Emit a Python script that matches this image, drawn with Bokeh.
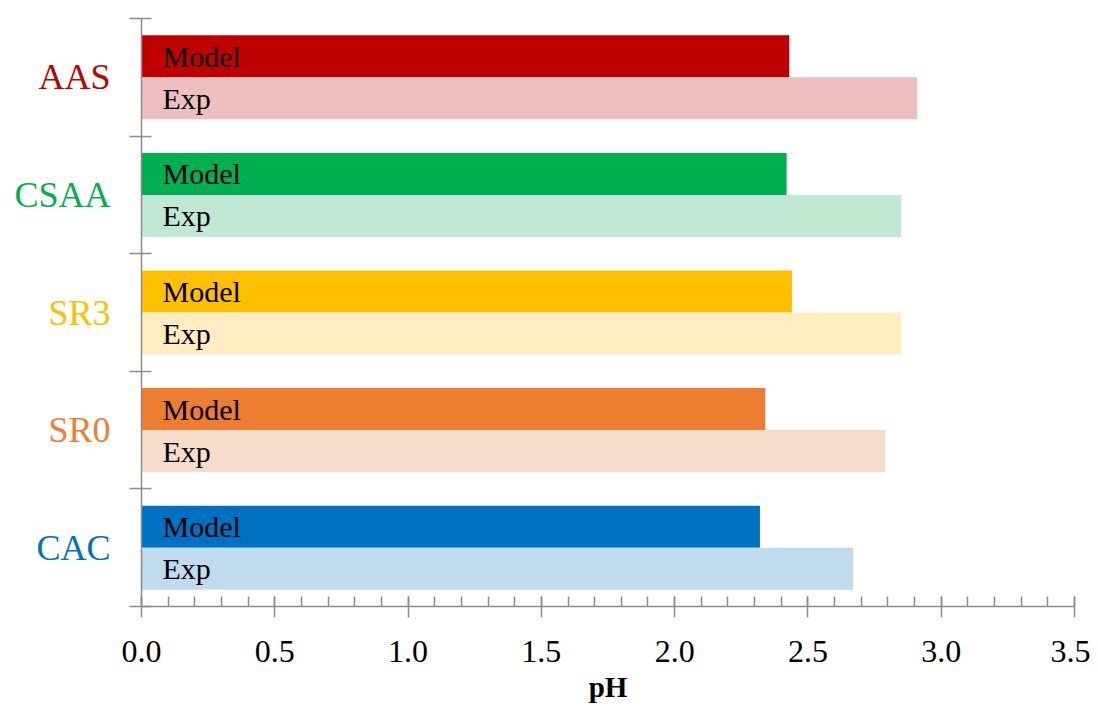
from bokeh.plotting import figure
from bokeh.layouts import row
from bokeh.models import Range1d, FixedTicker, ColumnDataSource
from bokeh.core.properties import value
from bokeh.embed import file_html
from bokeh.resources import INLINE

# ---- data (bottom to top) ----
categories = ["CAC", "SR0", "SR3", "CSAA", "AAS"]
model_ph = [2.32, 2.34, 2.44, 2.42, 2.43]
exp_ph = [2.67, 2.79, 2.85, 2.85, 2.91]
model_colors = ["#0070C0", "#ED7D31", "#FFC000", "#00B050", "#C00000"]
exp_colors = ["#BFDBEE", "#F8DCCB", "#FFECC0", "#C0E9D4", "#EDBFBF"]
series_names = ["Model", "Exp"]
x_ticks = [0.0, 0.5, 1.0, 1.5, 2.0, 2.5, 3.0, 3.5]
x_tick_labels = ["0.0", "0.5", "1.0", "1.5", "2.0", "2.5", "3.0", "3.5"]
x_minor_ticks = [round(i * 0.1, 1) for i in range(36)]
x_label = "pH"

FONT = "Liberation Serif"
AXIS_COLOR = "#8c8c8c"
BAR_H = 0.357
FRAME_H = 588
TOP = 18
BOTTOM = 88

n = len(categories)
centers = [i + 0.5 for i in range(n)]
y_range = Range1d(0, n)

model_src = ColumnDataSource(dict(
    y=[c + BAR_H / 2 for c in centers], right=model_ph, color=model_colors,
    label=[series_names[0]] * n))
exp_src = ColumnDataSource(dict(
    y=[c - BAR_H / 2 for c in centers], right=exp_ph, color=exp_colors,
    label=[series_names[1]] * n))
cat_src = ColumnDataSource(dict(y=centers, x=[1.0] * n, text=categories, color=model_colors))

# ---- left strip with coloured category names ----
lab = figure(frame_width=116, frame_height=FRAME_H, x_range=Range1d(0, 1), y_range=y_range,
             output_backend="svg", toolbar_location=None,
             min_border_left=0, min_border_right=0, min_border_top=TOP, min_border_bottom=BOTTOM)
lab.axis.visible = False
lab.grid.visible = False
lab.outline_line_color = None
lab.text(x="x", y="y", text="text", source=cat_src, x_offset=-6,
         text_font=value(FONT), text_font_size="36px", text_color="color",
         text_align="right", text_baseline="middle")

# ---- main chart ----
p = figure(frame_width=933, frame_height=FRAME_H,
           x_range=Range1d(0, 3.5), y_range=y_range,
           output_backend="svg", toolbar_location=None,
           min_border_left=25, min_border_top=TOP, min_border_right=16, min_border_bottom=BOTTOM)
p.outline_line_color = None
p.xgrid.visible = False
p.ygrid.visible = False

p.hbar(y="y", left=0, right="right", height=BAR_H, color="color", line_color=None, source=model_src)
p.hbar(y="y", left=0, right="right", height=BAR_H, color="color", line_color=None, source=exp_src)

for src in (model_src, exp_src):
    p.text(x=0, y="y", text="label", source=src, x_offset=21,
           text_font=value(FONT), text_font_size="30px", text_color="black",
           text_baseline="middle", text_align="left")

# x axis
xa = p.xaxis[0]
xa.ticker = FixedTicker(ticks=x_ticks, minor_ticks=x_minor_ticks)
xa.major_label_overrides = {t: l for t, l in zip(x_ticks, x_tick_labels)}
xa.major_label_text_font = FONT
xa.major_label_text_font_size = "32px"
xa.major_label_text_color = "black"
xa.major_label_standoff = 23
xa.axis_line_color = AXIS_COLOR
xa.axis_line_width = 1.5
xa.major_tick_line_color = AXIS_COLOR
xa.major_tick_line_width = 1.5
xa.major_tick_in = 10
xa.major_tick_out = 11
xa.minor_tick_line_color = AXIS_COLOR
xa.minor_tick_line_width = 1.5
xa.minor_tick_in = 10
xa.minor_tick_out = 0
xa.axis_label = x_label
xa.axis_label_text_font = FONT
xa.axis_label_text_font_size = "29px"
xa.axis_label_text_font_style = "bold"
xa.axis_label_text_color = "black"
xa.axis_label_standoff = 6

# y axis (ticks at category boundaries; names are in the left strip)
ya = p.yaxis[0]
ya.ticker = FixedTicker(ticks=list(range(n + 1)), minor_ticks=[])
ya.major_label_overrides = {i: "" for i in range(n + 1)}
ya.major_label_standoff = 0
ya.axis_line_color = AXIS_COLOR
ya.axis_line_width = 1.5
ya.major_tick_line_color = AXIS_COLOR
ya.major_tick_line_width = 1.5
ya.major_tick_in = 10
ya.major_tick_out = 12
ya.minor_tick_line_color = None

layout = row(lab, p, spacing=0)
open("out.html", "w").write(file_html(layout, INLINE))
